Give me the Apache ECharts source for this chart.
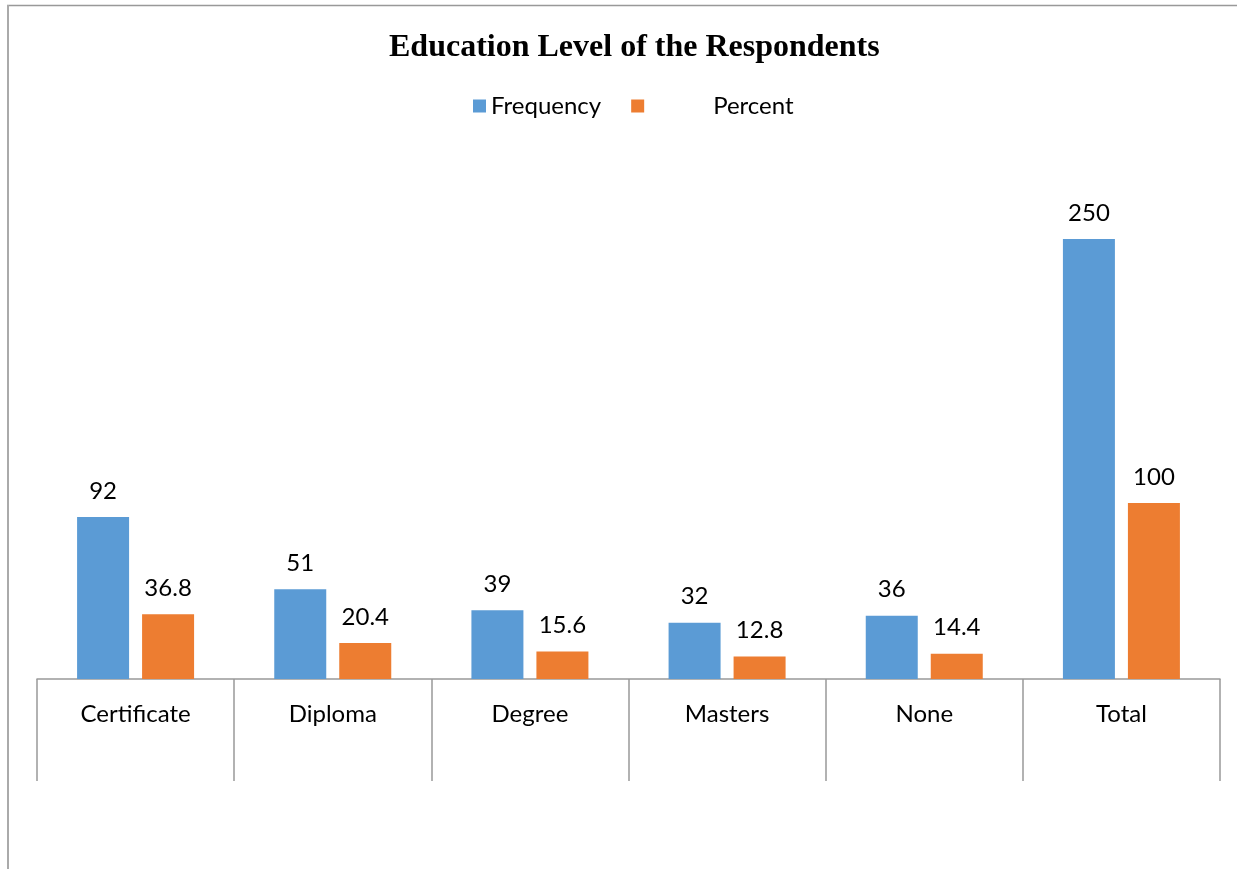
<!DOCTYPE html>
<html>
<head>
<meta charset="utf-8">
<script src="https://cdn.jsdelivr.net/npm/echarts@6/dist/echarts.min.js"></script>
<style>html,body{margin:0;padding:0;background:#fff}#c{width:1247px;height:869px}</style>
</head>
<body>
<div id="c"></div>
<script>
var categories = ['Certificate', 'Diploma', 'Degree', 'Masters', 'None', 'Total'];
var frequency = [92, 51, 39, 32, 36, 250];
var percent = [36.8, 20.4, 15.6, 12.8, 14.4, 100];

var FONT = 'Lato';
var chart = echarts.init(document.getElementById('c'));
var labelFont = { show: true, position: 'top', distance: 14, color: '#000', fontSize: 24, fontFamily: FONT };
chart.setOption({
  animation: false,
  title: {
    text: 'Education Level of the Respondents',
    left: 384, top: 27,
    textStyle: { fontFamily: 'Liberation Serif', fontWeight: 'bold', fontSize: 32, color: '#000' }
  },
  legend: {
    top: 89, left: 468,
    itemWidth: 13, itemHeight: 13, itemGap: 30,
    icon: 'rect',
    data: ['Frequency', 'Percent'],
    formatter: function (n) { return n === 'Percent' ? '{g|}' + n : n; },
    textStyle: { fontSize: 24, fontFamily: FONT, color: '#000', rich: { g: { width: 64 } } }
  },
  graphic: [
    { type: 'line', shape: { x1: 7, y1: 5.5, x2: 1237, y2: 5.5 }, style: { stroke: '#999', lineWidth: 1.5 } },
    { type: 'line', shape: { x1: 8, y1: 5, x2: 8, y2: 869 }, style: { stroke: '#aaa', lineWidth: 2 } }
  ],
  grid: { left: 37, right: 27, top: 151, bottom: 190 },
  xAxis: {
    type: 'category', data: categories,
    axisLine: { lineStyle: { color: '#999', width: 1.5 } },
    axisTick: { show: true, interval: 0, length: 102, lineStyle: { color: '#999', width: 1.5 } },
    axisLabel: { interval: 0, margin: 23, fontSize: 24, fontFamily: FONT, color: '#000' }
  },
  yAxis: { type: 'value', min: 0, max: 300, show: false, splitLine: { show: false } },
  series: [
    { name: 'Frequency', type: 'bar', data: frequency, barWidth: 52, barGap: '25%', itemStyle: { color: '#5B9BD5' }, label: labelFont },
    { name: 'Percent', type: 'bar', data: percent, barWidth: 52, itemStyle: { color: '#ED7D31' }, label: labelFont }
  ]
});
</script>
</body>
</html>
